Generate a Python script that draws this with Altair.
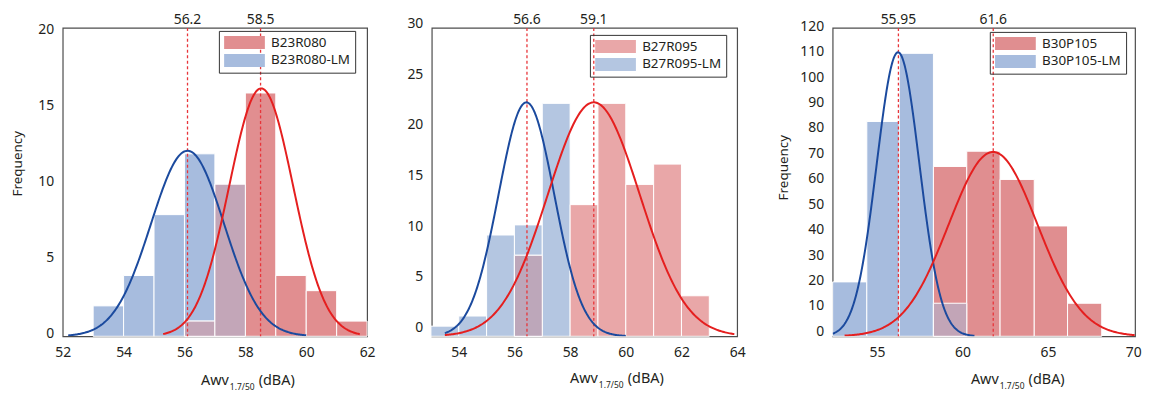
import altair as alt
import pandas as pd

FONT = "Noto Sans"
TXT = "#231f20"

# ---------------- data ----------------
series_names = ["B23R080", "B27R095", "B30P105"]

# panel 1 : B23R080
p1_blue_lo = [53, 54, 55, 56, 57]
p1_blue_hi = [54, 55, 56, 57, 58]
p1_blue_n = [2, 4, 8, 12, 10]
p1_red_lo = [56, 57, 58, 59, 60, 61]
p1_red_hi = [57, 58, 59, 60, 61, 62]
p1_red_n = [1, 10, 16, 4, 3, 1]
p1_mean_pos = [56.1, 58.5]
p1_mean_txt = ["56.2", "58.5"]
# fitted normal curves: mean, sd, peak height, start, end
p1_fit_blue = [56.1, 1.2, 12.2, 52.18, 60.0]
p1_fit_red = [58.52, 1.05, 16.3, 55.3, 61.76]

# panel 2 : B27R095
p2_blue_lo = [53, 54, 55, 56, 57]
p2_blue_hi = [54, 55, 56, 57, 58]
p2_blue_n = [1, 2, 10, 11, 23]
p2_red_lo = [56, 58, 59, 60, 61, 62]
p2_red_hi = [57, 59, 60, 61, 62, 63]
p2_red_n = [8, 13, 23, 15, 17, 4]
p2_mean_pos = [56.45, 58.85]
p2_mean_txt = ["56.6", "59.1"]
p2_fit_blue = [56.43, 1.0, 23.1, 53.5, 60.0]
p2_fit_red = [58.85, 1.65, 23.1, 53.5, 63.9]

# panel 3 : B30P105
p3_blue_lo = [52.4, 54.4, 56.3, 58.3]
p3_blue_hi = [54.4, 56.3, 58.3, 60.25]
p3_blue_n = [21.4, 84.5, 111.3, 13.0]
p3_red_lo = [58.3, 60.25, 62.2, 64.2, 66.15]
p3_red_hi = [60.25, 62.2, 64.2, 66.15, 68.15]
p3_red_n = [66.8, 72.8, 61.7, 43.4, 13.0]
p3_mean_pos = [56.25, 61.8]
p3_mean_txt = ["55.95", "61.6"]
p3_fit_blue = [56.23, 1.25, 111.7, 52.4, 60.7]
p3_fit_red = [61.79, 2.6, 72.5, 53.1, 70.08]

# axes
p1_xdom, p1_ydom = [52, 62], [0, 20.28]
p1_xticks, p1_yticks = [52, 54, 56, 58, 60, 62], [0, 5, 10, 15, 20]
p2_xdom, p2_ydom = [53.03, 64], [0, 30.45]
p2_xticks, p2_yticks = [54, 56, 58, 60, 62, 64], [0, 5, 10, 15, 20, 25, 30]
p3_xdom, p3_ydom = [52.4, 70.1], [0, 121.3]
p3_xticks, p3_yticks = [55, 60, 65, 70], list(range(0, 121, 10))

H = 310
# wide legend swatch: 41 x 13 px drawn with a size-169 symbol
RECT = "M-3.15,-1L3.15,-1L3.15,1L-3.15,1Z"


def panel(name, blo, bhi, bn, rlo, rhi, rn, mpos, mtxt, fitb, fitr,
          xdom, ydom, xticks, yticks, W, ylab_off, ytitle, ytitle_pos,
          leg_xy, xt_base, cols):
    red_c, blue_c, mix_c = cols
    lm = name + "-LM"
    bars = pd.DataFrame({
        "lo": blo + rlo,
        "hi": bhi + rhi,
        "n": bn + rn,
        "s": [lm] * len(blo) + [name] * len(rlo),
    })
    # overlap of the two histograms (common bins)
    olo, ohi, on = [], [], []
    for a, b, c in zip(blo, bhi, bn):
        for d, e, f in zip(rlo, rhi, rn):
            if abs(a - d) < 1e-6:
                olo.append(a); ohi.append(b); on.append(min(c, f))
    ov = pd.DataFrame({"lo": olo, "hi": ohi, "n": on})
    means = pd.DataFrame({"pos": mpos, "txt": mtxt})

    xsc = alt.Scale(domain=xdom, nice=False, zero=False)
    ysc = alt.Scale(domain=ydom, nice=False, zero=False)
    xax = alt.Axis(values=xticks, labelFlush=False, labelOverlap=False,
                   domain=False, ticks=False, grid=False, labelPadding=9)
    yargs = dict(values=yticks, labelOffset=ylab_off, domain=False, ticks=False,
                 grid=False, labelPadding=9, labelOverlap=False, labelFlush=False)
    if ytitle:
        yargs.update(titleX=ytitle_pos[0], titleY=ytitle_pos[1], titleAngle=270,
                     titleBaseline="middle", titleAlign="center",
                     titleFontSize=13.5, titleFontWeight="normal", titleFont=FONT,
                     titleColor=TXT)
    yax = alt.Axis(**yargs)
    ttl = "Frequency" if ytitle else ""

    def X(f):
        return alt.X(f, scale=xsc, axis=xax, title="")

    def Y(f):
        return alt.Y(f, scale=ysc, axis=yax, title=ttl)

    bar = alt.Chart(bars).mark_bar(stroke="white", strokeWidth=1).encode(
        x=X("lo:Q"), x2="hi:Q", y=Y("n:Q"), y2=alt.datum(0),
        color=alt.Color("s:N", scale=alt.Scale(domain=[name, lm], range=[red_c, blue_c]),
                        legend=alt.Legend(title=None, orient="none", legendX=leg_xy[0],
                                          legendY=leg_xy[1], strokeColor="#333333",
                                          padding=5, symbolType=RECT, symbolSize=169,
                                          symbolOffset=14, symbolStrokeWidth=0,
                                          symbolOpacity=1, labelFont=FONT,
                                          labelFontSize=13.5, labelColor=TXT,
                                          labelOffset=20, rowPadding=3)),
        order=alt.Order("s:N", sort="descending"),
    )
    over = alt.Chart(ov).mark_bar(stroke="white", strokeWidth=1, color=mix_c).encode(
        x=X("lo:Q"), x2="hi:Q", y=Y("n:Q"), y2=alt.datum(0))
    rule = alt.Chart(means).mark_rule(color="#e8353a", strokeDash=[3, 2.5],
                                      strokeWidth=1.3).encode(x=X("pos:Q"))
    lab = alt.Chart(means).mark_text(font=FONT, fontSize=14, color=TXT,
                                     baseline="middle").encode(
        x=X("pos:Q"), y=alt.value(-8), text="txt:N")

    def curve(p, color):
        mu, sd, pk, x0, x1 = p
        return alt.Chart(alt.sequence(0, 1.0001, 0.004, as_="t")).transform_calculate(
            xv=f"{x0} + datum.t * ({x1} - {x0})"
        ).transform_calculate(
            yv=f"{pk} * exp(-0.5 * pow((datum.xv - {mu}) / {sd}, 2))"
        ).mark_line(color=color, strokeWidth=2, clip=True).encode(
            x=X("xv:Q"), y=Y("yv:Q"), order="t:Q")

    t1 = alt.Chart(pd.DataFrame({"t": ["Awv"]})).mark_text(
        font=FONT, fontSize=14.5, color=TXT, align="left", baseline="alphabetic").encode(
        x=alt.value(139), y=alt.value(H + xt_base), text="t:N")
    t2 = alt.Chart(pd.DataFrame({"t": ["1.7/50"]})).mark_text(
        font=FONT, fontSize=8.5, color=TXT, align="left", baseline="alphabetic").encode(
        x=alt.value(168), y=alt.value(H + xt_base + 5), text="t:N")
    t3 = alt.Chart(pd.DataFrame({"t": ["(dBA)"]})).mark_text(
        font=FONT, fontSize=14.5, color=TXT, align="left", baseline="alphabetic").encode(
        x=alt.value(197), y=alt.value(H + xt_base), text="t:N")

    return alt.layer(bar, over, rule, curve(fitb, "#1b4a9e"), curve(fitr, "#e51f1f"),
                     lab, t1, t2, t3).properties(width=W, height=H)


c1 = panel(series_names[0], p1_blue_lo, p1_blue_hi, p1_blue_n, p1_red_lo, p1_red_hi, p1_red_n,
           p1_mean_pos, p1_mean_txt, p1_fit_blue, p1_fit_red, p1_xdom, p1_ydom,
           p1_xticks, p1_yticks, 306, -3, True, (-45, 136), (157, 3), 49,
           ("#e18e90", "#a7bcde", "#c3a6b8"))
c2 = panel(series_names[1], p2_blue_lo, p2_blue_hi, p2_blue_n, p2_red_lo, p2_red_hi, p2_red_n,
           p2_mean_pos, p2_mean_txt, p2_fit_blue, p2_fit_red, p2_xdom, p2_ydom,
           p2_xticks, p2_yticks, 307, -9, False, (0, 0), (159, 7), 47,
           ("#e9a7a8", "#b4c6e1", "#bda7ba"))
c3 = panel(series_names[2], p3_blue_lo, p3_blue_hi, p3_blue_n, p3_red_lo, p3_red_hi, p3_red_n,
           p3_mean_pos, p3_mean_txt, p3_fit_blue, p3_fit_red, p3_xdom, p3_ydom,
           p3_xticks, p3_yticks, 304, -5, True, (-49, 140), (158, 4), 48,
           ("#e08e90", "#a7bcde", "#c2a5b7"))

chart = alt.hconcat(c1, c2, c3, spacing=30).resolve_scale(
    x="independent", y="independent", color="independent"
).resolve_legend(color="independent").configure_view(
    stroke="#4d4d4d", strokeWidth=1.2
).configure_axis(
    labelFont=FONT, labelFontSize=14, labelColor=TXT
).properties(padding={"left": 2, "top": 3, "right": 0, "bottom": 0})

chart.save("out.html", embed_options={"renderer": "svg", "actions": False})
